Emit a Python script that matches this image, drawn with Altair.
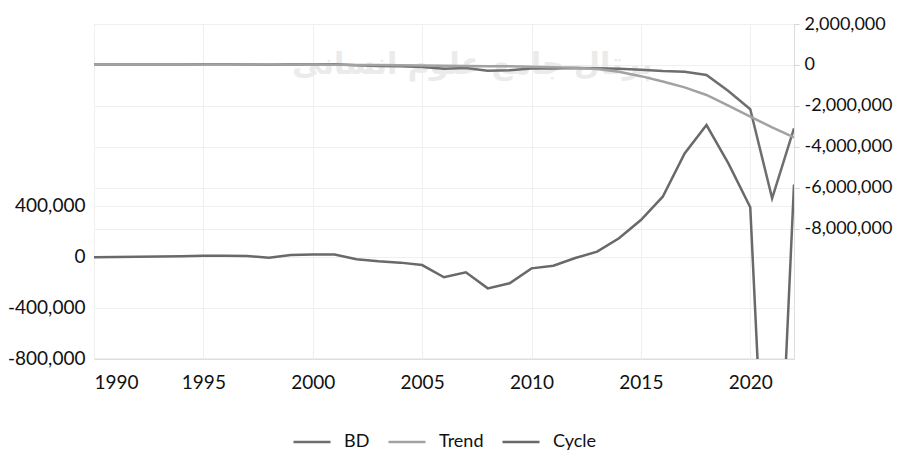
import altair as alt
import pandas as pd

years = list(range(1990, 2023))

# Right axis series (values)
bd = [15000, 17000, 19000, 20000, 23000, 26000, 26000, 24000, 11000, 32000, 25000, 26000,
      -22000, -48000, -68000, -100000, -190000, -150000, -290000, -260000, -170000, -170000,
      -150000, -160000, -190000, -240000, -300000, -330000, -490000, -1280000, -2170000,
      -6520000, -3100000]
trend = [20000, 20000, 20000, 20000, 20000, 20000, 20000, 20000, 20000, 20000, 10000, 10000,
         0, -10000, -20000, -30000, -40000, -50000, -60000, -70000, -90000, -110000,
         -140000, -200000, -330000, -550000, -810000, -1100000, -1470000, -1990000, -2530000,
         -3050000, -3540000]
# Left axis series
cycle = [-5000, -3000, -1000, 0, 3000, 6000, 6000, 4000, -9000, 12000, 15000, 16000,
         -22000, -38000, -48000, -67000, -163000, -124000, -250000, -210000, -93000, -72000,
         -12000, 38000, 143000, 286000, 469000, 809000, 1031000, 731000, 386000,
         -3200000, 565000]

series_names = ["BD", "Trend", "Cycle"]
series_colors = ["#6e6e6e", "#a2a2a2", "#696969"]

left_ticks = [400000, 0, -400000, -800000]
right_ticks = [2000000, 0, -2000000, -4000000, -6000000, -8000000]
x_ticks = [1990, 1995, 2000, 2005, 2010, 2015, 2020]

watermark_text = ["پرتال جامع علوم انسانی"]
watermark_year = [2007.3]
watermark_value = [0]

df_right = pd.DataFrame({
    "year": years * 2,
    "value": bd + trend,
    "series": ["BD"] * len(years) + ["Trend"] * len(years),
})
df_cycle = pd.DataFrame({"year": years, "value": cycle, "series": ["Cycle"] * len(years)})
df_wm = pd.DataFrame({"year": watermark_year, "value": watermark_value, "text": watermark_text})

FONT = "Lato"
label_expr = "(datum.value < 0 ? '-' : '') + format(abs(datum.value), ',')"

x_enc = alt.X(
    "year:Q",
    scale=alt.Scale(domain=[1990, 2022], nice=False, zero=False),
    axis=alt.Axis(values=x_ticks, format="d", title=None, grid=True, gridColor="#efefef",
                  domain=False, ticks=False, labelPadding=14, labelFontSize=19,
                  labelFont=FONT, labelColor="#111111"),
)

legend = alt.Legend(orient="none", legendX=198, legendY=398, direction="horizontal",
                    title=None, symbolType="stroke", symbolSize=1369,
                    symbolStrokeWidth=2.5, labelFont=FONT, labelFontSize=18,
                    labelColor="#111111", columnPadding=13, labelOffset=12)

color_enc = alt.Color(
    "series:N",
    scale=alt.Scale(domain=series_names, range=series_colors),
    legend=legend,
)

right_domain = [-14380000, 2000000]

wm = alt.Chart(df_wm).mark_text(font="DejaVu Sans", fontSize=30, fontWeight="bold",
                                color="#ebebeb").encode(
    x=x_enc,
    y=alt.Y("value:Q", scale=alt.Scale(domain=right_domain, nice=False, zero=False), axis=None),
    text="text:N",
)

right = alt.Chart(df_right).mark_line(strokeWidth=2.5, clip=True).encode(
    x=x_enc,
    y=alt.Y("value:Q", scale=alt.Scale(domain=right_domain, nice=False, zero=False),
            axis=alt.Axis(orient="right", values=right_ticks, labelExpr=label_expr, title=None,
                          grid=True, gridColor="#efefef", domain=False, ticks=True,
                          tickSize=5, tickColor="#d5d5d5", labelPadding=5,
                          labelFontSize=18, labelFont=FONT, labelColor="#111111")),
    color=color_enc,
)

left = alt.Chart(df_cycle).mark_line(strokeWidth=2.5, clip=True).encode(
    x=x_enc,
    y=alt.Y("value:Q", scale=alt.Scale(domain=[-804000, 1824000], nice=False, zero=False),
            axis=alt.Axis(orient="left", values=left_ticks, labelExpr=label_expr, title=None,
                          grid=True, gridColor="#efefef", domain=False, ticks=False,
                          labelPadding=9, labelFontSize=19, labelFont=FONT,
                          labelColor="#111111")),
    color=color_enc,
)

chart = alt.layer(wm, right, left).resolve_scale(y="independent").properties(
    width=700, height=335,
    autosize=alt.AutoSizeParams(type="none"),
    padding={"left": 86, "top": 16, "right": 101, "bottom": 93},
).configure_view(stroke=None).configure(background="white")

chart.save("out.html", embed_options={"renderer": "svg", "actions": False})
